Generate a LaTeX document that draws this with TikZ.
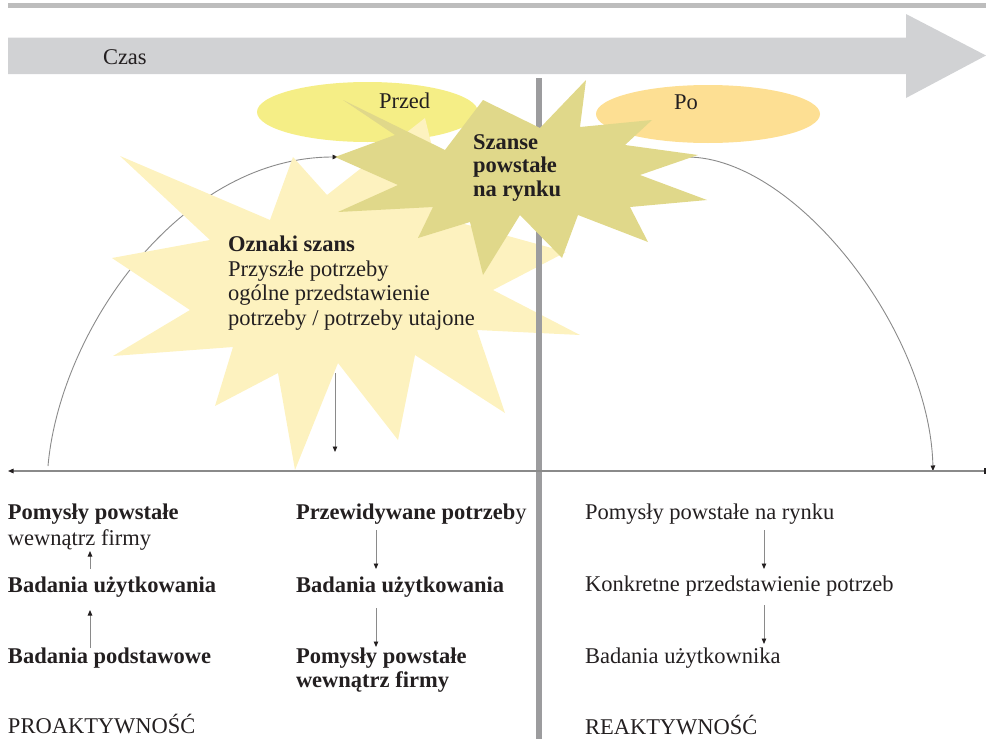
\documentclass[tikz,border=0pt]{standalone}
\usepackage{fontspec}
\setmainfont{Liberation Serif}
\usetikzlibrary{arrows.meta,shapes.geometric}
\definecolor{ink}{HTML}{231F20}
\definecolor{bigarrow}{HTML}{D1D2D4}
\definecolor{topbar}{HTML}{BDBDBD}
\definecolor{przedcol}{HTML}{F5EE86}
\definecolor{pocol}{HTML}{FDDF93}
\definecolor{lightstar}{HTML}{FDF2BF}
\definecolor{darkstar}{HTML}{E0D88A}
\definecolor{vline}{HTML}{9C9C9E}
\definecolor{curvecol}{HTML}{8A8A8A}
\begin{document}
\begin{tikzpicture}[x=1pt,y=-1pt,
  txt/.style={inner sep=0pt, outer sep=0pt, anchor=base west, text=ink,
    font=\fontsize{22.5}{24.5}\selectfont},
  btxt/.style={txt, font=\fontsize{22.5}{24.5}\selectfont\bfseries},
  oval/.style={ellipse, inner sep=0pt, draw=none},
  thinarr/.style={draw=curvecol, line width=0.9pt,
    -{Triangle[length=5.5pt,width=4.5pt,fill=ink,color=ink]}},
  curve/.style={draw=curvecol, line width=0.9pt,
    -{Triangle[length=5.5pt,width=4.5pt,fill=ink,color=ink]}}]
\useasboundingbox (0,0) rectangle (986,739);

% top bar and time arrow
\fill[topbar] (8,3) rectangle (986,7.5);
\fill[bigarrow] (8,37.5) -- (906,37.5) -- (906,14) -- (986,55.5) -- (906,98) -- (906,74) -- (8,74) -- cycle;
\node[txt] (czas) at (103,64) {Czas};

% ellipses
\node[oval, fill=przedcol, minimum width=221pt, minimum height=60pt] (przedE) at (367.5,112) {};
\node[oval, fill=pocol, minimum width=224pt, minimum height=58pt] (poE) at (708,114) {};
\node[txt] (przed) at (379,108) {Przed};
\node[txt] (po) at (674,109) {Po};

% arcs
\coordinate (arcLs) at (48,466);
\coordinate (arcLe) at (338,157);
\coordinate (arcRs) at (687,157);
\coordinate (arcRe) at (933,471);
\draw[curve] (arcLs) .. controls (60,330) and (180,157) .. (arcLe);
\draw[curve] (arcRs) .. controls (795,157) and (930,330) .. (arcRe);

% light star
\fill[lightstar] (120,156) -- (270,220) -- (293,157) -- (327,195) -- (425,118) -- (450,220)
  -- (566,252) -- (493,290) -- (580,335) -- (477,330) -- (505,413) -- (415,355)
  -- (398,440) -- (338,363) -- (295,470) -- (278,373) -- (215,406) -- (233,347)
  -- (113,356) -- (190,310) -- (112,258) -- (210,240) -- cycle;

% vertical divider
\draw[vline, line width=6pt] (539,78) -- (539,739);

% dark star
\fill[darkstar] (343,100) -- (445,150) -- (483,100) -- (540,128) -- (586,80) -- (580,127)
  -- (652,120) -- (625,145) -- (698,155) -- (640,175) -- (707,200) -- (630,207)
  -- (648,242) -- (578,215) -- (562,258) -- (520,215) -- (483,275) -- (470,222)
  -- (418,238) -- (433,207) -- (338,212) -- (398,185) -- (335,157) -- (395,135) -- cycle;

% star texts
\node[btxt] (sz1) at (473,149) {Szanse};
\node[btxt] (sz2) at (473,172.5) {powstałe};
\node[btxt] (sz3) at (473,196) {na rynku};
\node[btxt] (oz1) at (228,251.5) {Oznaki szans};
\node[txt] (oz2) at (228,276) {Przyszłe potrzeby};
\node[txt] (oz3) at (228,300.5) {ogólne przedstawienie};
\node[txt] (oz4) at (228,325) {potrzeby / potrzeby utajone};

% arrow down inside light star
\coordinate (dnS) at (335,373);
\coordinate (dnE) at (335,452);
\draw[thinarr] (dnS) -- (dnE);

% horizontal axis
\coordinate (axR) at (985,471);
\coordinate (axL) at (8,471);
\draw[thinarr, line width=1.2pt] (axR) -- (axL);
\draw[ink, line width=1.3pt] (985,468) -- (985,474);

% bottom left column
\node[btxt] (l1) at (8,519) {Pomysły powstałe};
\node[txt] (l2) at (8,545) {wewnątrz firmy};
\node[btxt] (l3) at (8,592) {Badania użytkowania};
\node[btxt] (l4) at (8,663) {Badania podstawowe};
\node[txt] (l5) at (8,733) {PROAKTYWNOŚĆ};
\coordinate (la1s) at (90,569); \coordinate (la1e) at (90,551);
\coordinate (la2s) at (90,648); \coordinate (la2e) at (90,610);
\draw[thinarr] (la1s) -- (la1e);
\draw[thinarr] (la2s) -- (la2e);

% middle column
\node[txt] (m1) at (296,519) {{\bfseries Przewidywane potrzeb}y};
\node[btxt] (m2) at (296,592) {Badania użytkowania};
\node[btxt] (m3) at (296,663) {Pomysły powstałe};
\node[btxt] (m4) at (296,687) {wewnątrz firmy};
\coordinate (ma1s) at (376,530); \coordinate (ma1e) at (376,569);
\coordinate (ma2s) at (376,608); \coordinate (ma2e) at (376,647);
\draw[thinarr] (ma1s) -- (ma1e);
\draw[thinarr] (ma2s) -- (ma2e);

% right column
\node[txt] (r1) at (585,519) {Pomysły powstałe na rynku};
\node[txt] (r2) at (585,591) {Konkretne przedstawienie potrzeb};
\node[txt] (r3) at (585,663) {Badania użytkownika};
\node[txt] (r4) at (585,734) {REAKTYWNOŚĆ};
\coordinate (ra1s) at (764,530); \coordinate (ra1e) at (764,569);
\coordinate (ra2s) at (764,605); \coordinate (ra2e) at (764,644);
\draw[thinarr] (ra1s) -- (ra1e);
\draw[thinarr] (ra2s) -- (ra2e);
\end{tikzpicture}
\end{document}
